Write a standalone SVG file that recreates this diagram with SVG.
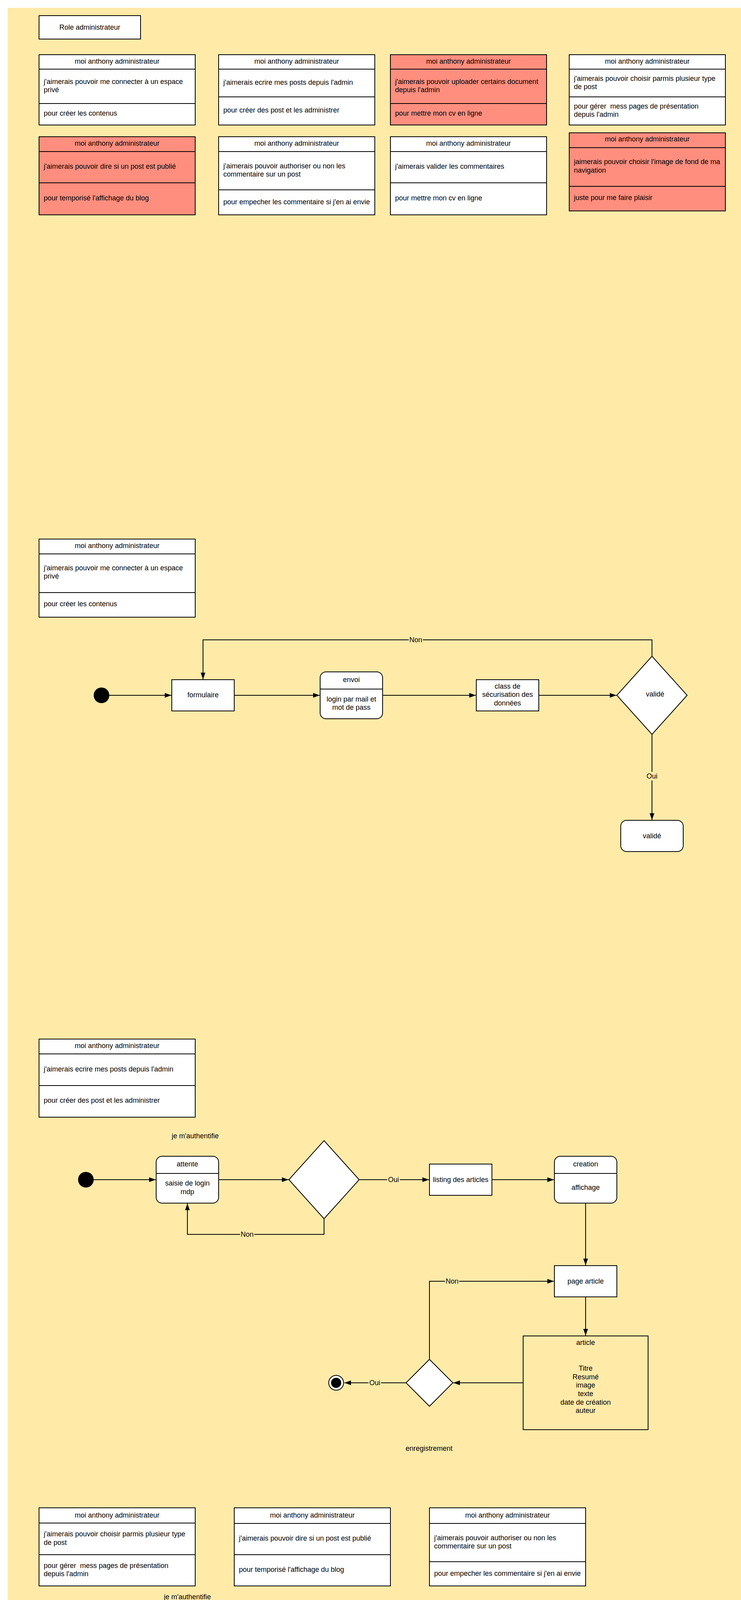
<svg xmlns="http://www.w3.org/2000/svg" width="1898" height="7480" viewBox="0 0 1898 7480">
<defs>
<style>
.bg{fill:#FFEAA8}
.redbg{fill:#FF8E7E;stroke:#000;stroke-width:2}
.box{fill:#fff;stroke:#000;stroke-width:2}
.rbox{fill:#FF8E7E;stroke:#000;stroke-width:2}
.hol{fill:none;stroke:#000;stroke-width:2}
.dv{stroke:#000;stroke-width:2}
.dia{fill:#fff;stroke:#000;stroke-width:2}
.t{font-family:"Liberation Sans",Arial,sans-serif;font-size:18px;fill:#000}
.m{text-anchor:middle}
.e{fill:none;stroke:#000;stroke-width:2}
.ea{fill:none;stroke:#000;stroke-width:2;marker-end:url(#arr)}
.ly{fill:#FFEAA8}
.lr{fill:#FF8E7E}
</style>
<marker id="arr" viewBox="0 0 17 12" refX="17" refY="6" markerWidth="17" markerHeight="12" markerUnits="userSpaceOnUse" orient="auto"><path d="M0,0 L17,6 L0,12 z" fill="#000"/></marker>
</defs>

<rect class="bg" x="20" y="20" width="1878" height="7460"/>
<rect id="red-zone" class="redbg" x="40" y="5120" width="1818" height="1200"/>

<g id="cards">
<g id="role"><rect class="box" x="100" y="40" width="260" height="60"/><text class="t m" x="230" y="76">Role administrateur</text></g>

<g id="card-r1-1"><rect class="box" x="100" y="140" width="400" height="180"/><line class="dv" x1="100" y1="177" x2="500" y2="177"/><line class="dv" x1="100" y1="265" x2="500" y2="265"/>
<text class="t m" x="300" y="163">moi anthony administrateur</text>
<text class="t" x="112" y="215">j'aimerais pouvoir me connecter à un espace<tspan x="112" y="236">privé</tspan></text>
<text class="t" x="112" y="296">pour créer les contenus</text></g>

<g id="card-r1-2"><rect class="box" x="560" y="140" width="400" height="180"/><line class="dv" x1="560" y1="177" x2="960" y2="177"/><line class="dv" x1="560" y1="248" x2="960" y2="248"/>
<text class="t m" x="760" y="163">moi anthony administrateur</text>
<text class="t" x="572" y="217">j'aimerais ecrire mes posts depuis l'admin</text>
<text class="t" x="572" y="288">pour créer des post et les administrer</text></g>

<g id="card-r1-3"><rect class="rbox" x="1000" y="140" width="400" height="180"/><line class="dv" x1="1000" y1="177" x2="1400" y2="177"/><line class="dv" x1="1000" y1="265" x2="1400" y2="265"/>
<text class="t m" x="1200" y="163">moi anthony administrateur</text>
<text class="t" x="1012" y="215">j'aimerais pouvoir uploader certains document<tspan x="1012" y="236">depuis l'admin</tspan></text>
<text class="t" x="1012" y="296">pour mettre mon cv en ligne</text></g>

<g id="card-r1-4"><rect class="box" x="1458" y="140" width="400" height="180"/><line class="dv" x1="1458" y1="177" x2="1858" y2="177"/><line class="dv" x1="1458" y1="248" x2="1858" y2="248"/>
<text class="t m" x="1658" y="163">moi anthony administrateur</text>
<text class="t" x="1470" y="207">j'aimerais pouvoir choisir parmis plusieur type<tspan x="1470" y="228">de post</tspan></text>
<text class="t" x="1470" y="278" style="white-space:pre">pour gérer  mess pages de présentation<tspan x="1470" y="299">depuis l'admin</tspan></text></g>

<g id="card-r2-1"><rect class="rbox" x="100" y="350" width="400" height="200"/><line class="dv" x1="100" y1="388" x2="500" y2="388"/><line class="dv" x1="100" y1="468" x2="500" y2="468"/>
<text class="t m" x="300" y="373">moi anthony administrateur</text>
<text class="t" x="112" y="432">j'aimerais pouvoir dire si un post est publié</text>
<text class="t" x="112" y="513">pour temporisé l'affichage du blog</text></g>

<g id="card-r2-2"><rect class="box" x="560" y="350" width="400" height="200"/><line class="dv" x1="560" y1="388" x2="960" y2="388"/><line class="dv" x1="560" y1="486" x2="960" y2="486"/>
<text class="t m" x="760" y="373">moi anthony administrateur</text>
<text class="t" x="572" y="431">j'aimerais pouvoir authoriser ou non les<tspan x="572" y="452">commentaire sur un post</tspan></text>
<text class="t" x="572" y="523">pour empecher les commentaire si j'en ai envie</text></g>

<g id="card-r2-3"><rect class="box" x="1000" y="350" width="400" height="200"/><line class="dv" x1="1000" y1="388" x2="1400" y2="388"/><line class="dv" x1="1000" y1="468" x2="1400" y2="468"/>
<text class="t m" x="1200" y="373">moi anthony administrateur</text>
<text class="t" x="1012" y="432">j'aimerais valider les commentaires</text>
<text class="t" x="1012" y="513">pour mettre mon cv en ligne</text></g>

<g id="card-r2-4"><rect class="rbox" x="1458" y="340" width="400" height="200"/><line class="dv" x1="1458" y1="378" x2="1858" y2="378"/><line class="dv" x1="1458" y1="477" x2="1858" y2="477"/>
<text class="t m" x="1658" y="362">moi anthony administrateur</text>
<text class="t" x="1470" y="420">jaimerais pouvoir choisir l'image de fond de ma<tspan x="1470" y="442">navigation</tspan></text>
<text class="t" x="1470" y="512">juste pour me faire plaisir</text></g>

<g id="card-s1"><rect class="box" x="100" y="1380" width="400" height="200"/><line class="dv" x1="100" y1="1418" x2="500" y2="1418"/><line class="dv" x1="100" y1="1517" x2="500" y2="1517"/>
<text class="t m" x="300" y="1403">moi anthony administrateur</text>
<text class="t" x="112" y="1460">j'aimerais pouvoir me connecter à un espace<tspan x="112" y="1481">privé</tspan></text>
<text class="t" x="112" y="1552">pour créer les contenus</text></g>

<g id="card-s2"><rect class="box" x="100" y="2660" width="400" height="200"/><line class="dv" x1="100" y1="2698" x2="500" y2="2698"/><line class="dv" x1="100" y1="2779" x2="500" y2="2779"/>
<text class="t m" x="300" y="2683">moi anthony administrateur</text>
<text class="t" x="112" y="2743">j'aimerais ecrire mes posts depuis l'admin</text>
<text class="t" x="112" y="2823">pour créer des post et les administrer</text></g>

<g id="card-s3-a"><rect class="box" x="100" y="3860" width="400" height="200"/><line class="dv" x1="100" y1="3899" x2="500" y2="3899"/><line class="dv" x1="100" y1="3980" x2="500" y2="3980"/>
<text class="t m" x="300" y="3885">moi anthony administrateur</text>
<text class="t" x="112" y="3933">j'aimerais pouvoir choisir parmis plusieur type<tspan x="112" y="3955">de post</tspan></text>
<text class="t" x="112" y="4014" style="white-space:pre">pour gérer  mess pages de présentation<tspan x="112" y="4035">depuis l'admin</tspan></text></g>

<g id="card-s3-b"><rect class="box" x="600" y="3860" width="400" height="200"/><line class="dv" x1="600" y1="3900" x2="1000" y2="3900"/><line class="dv" x1="600" y1="3980" x2="1000" y2="3980"/>
<text class="t m" x="800" y="3885">moi anthony administrateur</text>
<text class="t" x="612" y="3944">j'aimerais pouvoir dire si un post est publié</text>
<text class="t" x="612" y="4024">pour temporisé l'affichage du blog</text></g>

<g id="card-s3-c"><rect class="box" x="1100" y="3860" width="400" height="200"/><line class="dv" x1="1100" y1="3900" x2="1500" y2="3900"/><line class="dv" x1="1100" y1="3998" x2="1500" y2="3998"/>
<text class="t m" x="1300" y="3885">moi anthony administrateur</text>
<text class="t" x="1112" y="3943">j'aimerais pouvoir authoriser ou non les<tspan x="1112" y="3964">commentaire sur un post</tspan></text>
<text class="t" x="1112" y="4034">pour empecher les commentaire si j'en ai envie</text></g>

<g id="card-s4"><rect class="box" x="100" y="5140" width="400" height="200"/><line class="dv" x1="100" y1="5178" x2="500" y2="5178"/><line class="dv" x1="100" y1="5277" x2="500" y2="5277"/>
<text class="t m" x="300" y="5163">moi anthony administrateur</text>
<text class="t" x="112" y="5220">j'aimerais pouvoir uploader certains document<tspan x="112" y="5241">depuis l'admin</tspan></text>
<text class="t" x="112" y="5312">pour mettre mon cv en ligne</text></g>

<g id="card-s5"><rect class="box" x="100" y="6420" width="400" height="200"/><line class="dv" x1="100" y1="6458" x2="500" y2="6458"/><line class="dv" x1="100" y1="6538" x2="500" y2="6538"/>
<text class="t m" x="300" y="6443">moi anthony administrateur</text>
<text class="t" x="112" y="6504">j'aimerais valider les commentaires</text>
<text class="t" x="112" y="6583">pour mettre mon cv en ligne</text></g>
</g>

<!-- Section 1 nodes -->
<g id="s1-nodes">
<g id="s1-start"><circle cx="260" cy="1780" r="20" fill="#000"/></g>
<g id="s1-formulaire"><rect class="box" x="440" y="1740" width="160" height="80"/><text class="t m" x="520" y="1785">formulaire</text></g>
<g id="s1-envoi"><rect class="box" x="820" y="1720" width="160" height="120" rx="15"/><line class="dv" x1="820" y1="1764" x2="980" y2="1764"/>
<text class="t m" x="900" y="1746">envoi</text><text class="t m" x="900" y="1796">login par mail et<tspan x="900" y="1817">mot de pass</tspan></text></g>
<g id="s1-class"><rect class="box" x="1220" y="1740" width="160" height="80"/><text class="t m" x="1300" y="1763">class de<tspan x="1300" y="1784">sécurisation des</tspan><tspan x="1300" y="1806">données</tspan></text></g>
<g id="s1-decision"><polygon class="dia" points="1580,1780 1670,1680 1760,1780 1670,1880"/><text class="t m" x="1678" y="1783">validé</text></g>
<g id="s1-valide"><rect class="box" x="1590" y="2100" width="160" height="80" rx="15"/><text class="t m" x="1670" y="2146">validé</text></g>
</g>

<!-- Section 2 nodes (base coordinates) -->
<g id="s2-nodes">
<g id="s2-start"><circle cx="220" cy="3020" r="20" fill="#000"/></g>
<g id="s2-label-auth"><text class="t m" x="500" y="2914">je m'authentifie</text></g>
<g id="s2-attente"><rect class="box" x="400" y="2960" width="160" height="120" rx="15"/><line class="dv" x1="400" y1="3004" x2="560" y2="3004"/><text class="t m" x="480" y="2986">attente</text><text class="t m" x="480" y="3035">saisie de login<tspan x="480" y="3057">mdp</tspan></text></g>
<g id="s2-dec1"><polygon class="dia" points="740,3020 830,2920 920,3020 830,3120"/></g>
<g id="s2-listing"><rect class="box" x="1100" y="2980" width="160" height="80"/><text class="t m" x="1180" y="3026">listing des articles</text></g>
<g id="s2-creation"><rect class="box" x="1420" y="2960" width="160" height="120" rx="15"/><line class="dv" x1="1420" y1="3004" x2="1580" y2="3004"/><text class="t m" x="1500" y="2986">creation</text><text class="t m" x="1500" y="3046">affichage</text></g>
<g id="s2-page"><rect class="box" x="1420" y="3240" width="160" height="80"/><text class="t m" x="1500" y="3286">page article</text></g>
<g id="s2-article"><rect class="hol" x="1340" y="3420" width="320" height="240"/><text class="t m" x="1500" y="3443">article</text>
<text class="t m" x="1500" y="3509">Titre<tspan x="1500" y="3531">Resumé</tspan><tspan x="1500" y="3552">image</tspan><tspan x="1500" y="3574">texte</tspan><tspan x="1500" y="3596">date de création</tspan><tspan x="1500" y="3617">auteur</tspan></text></g>
<g id="s2-dec2"><polygon class="dia" points="1040,3540 1100,3480 1160,3540 1100,3600"/></g>
<g id="s2-end"><circle cx="861" cy="3540" r="19" fill="#fff" stroke="#000" stroke-width="2"/><circle cx="861" cy="3540" r="13" fill="#000"/></g>
<g id="s2-label-enr"><text class="t m" x="1099" y="3714">enregistrement</text></g>
</g>

<!-- Section 3 nodes -->
<g id="s3-nodes" transform="translate(-20,1180)">
<g id="s3-start"><circle cx="220" cy="3020" r="20" fill="#000"/></g>
<g id="s3-label-auth"><text class="t m" x="500" y="2914">je m'authentifie</text></g>
<g id="s3-attente"><rect class="box" x="400" y="2960" width="160" height="120" rx="15"/><line class="dv" x1="400" y1="3004" x2="560" y2="3004"/><text class="t m" x="480" y="2986">attente</text><text class="t m" x="480" y="3035">saisie de login<tspan x="480" y="3057">mdp</tspan></text></g>
<g id="s3-dec1"><polygon class="dia" points="740,3020 830,2920 920,3020 830,3120"/></g>
<g id="s3-listing"><rect class="box" x="1100" y="2980" width="160" height="80"/><text class="t m" x="1180" y="3026">listing des articles</text></g>
<g id="s3-creation"><rect class="box" x="1420" y="2960" width="160" height="120" rx="15"/><line class="dv" x1="1420" y1="3004" x2="1580" y2="3004"/><text class="t m" x="1500" y="2986">creation</text><text class="t m" x="1500" y="3046">affichage</text></g>
<g id="s3-page"><rect class="box" x="1420" y="3240" width="160" height="80"/><text class="t m" x="1500" y="3286">page article</text></g>
<g id="s3-article"><rect class="hol" x="1340" y="3420" width="320" height="240"/><text class="t m" x="1500" y="3443">article</text>
<text class="t m" x="1500" y="3509">Titre<tspan x="1500" y="3531">Resumé</tspan><tspan x="1500" y="3552">image</tspan><tspan x="1500" y="3574">texte</tspan><tspan x="1500" y="3596">date de création</tspan><tspan x="1500" y="3617">auteur</tspan></text></g>
<g id="s3-dec2"><polygon class="dia" points="1040,3540 1100,3480 1160,3540 1100,3600"/></g>
<g id="s3-end"><circle cx="861" cy="3540" r="19" fill="#fff" stroke="#000" stroke-width="2"/><circle cx="861" cy="3540" r="13" fill="#000"/></g>
<g id="s3-label-enr"><text class="t m" x="1100" y="3716">enregistrement</text></g>
<g id="s3-publie"><rect class="box" x="1430" y="3720" width="140" height="60"/><text class="t m" x="1500" y="3754">publié</text></g>
<g id="s3-type"><rect class="box" x="1280" y="3760" width="140" height="60"/><text class="t m" x="1350" y="3796">type de post</text></g>
<g id="s3-authorise"><rect class="box" x="1580" y="3760" width="140" height="60"/><text class="t m" x="1650" y="3796">authorisé</text></g>
</g>

<!-- Section 4 nodes -->
<g id="s4-nodes" transform="translate(0,2480)">
<g id="s4-start"><circle cx="220" cy="3020" r="20" fill="#000"/></g>
<g id="s4-label-auth"><text class="t m" x="500" y="2914">je m'authentifie</text></g>
<g id="s4-attente"><rect class="box" x="400" y="2960" width="160" height="120" rx="15"/><line class="dv" x1="400" y1="3004" x2="560" y2="3004"/><text class="t m" x="480" y="2986">attente</text><text class="t m" x="480" y="3035">saisie de login<tspan x="480" y="3057">mdp</tspan></text></g>
<g id="s4-dec1"><polygon class="dia" points="740,3020 830,2920 920,3020 830,3120"/></g>
<g id="s4-form-envoi"><rect class="box" x="1100" y="2980" width="160" height="80"/><text class="t m" x="1180" y="3012">formulaire d'envoi<tspan x="1180" y="3034">de fichier</tspan></text></g>
<g id="s4-page-media"><rect class="box" x="1420" y="2960" width="160" height="120" rx="15"/><line class="dv" x1="1420" y1="3004" x2="1580" y2="3004"/><text class="t m" x="1500" y="2986">page média</text><text class="t m" x="1500" y="3046">listing</text></g>
<g id="s4-label-texte"><text class="t m" x="950" y="3244">Texte</text></g>
<g id="s4-form-ajout"><rect class="box" x="1420" y="3240" width="160" height="80"/><text class="t m" x="1500" y="3272">formulaire d'ajout<tspan x="1500" y="3294">de média</tspan></text></g>
<g id="s4-image"><rect class="hol" x="1340" y="3420" width="320" height="240"/><text class="t m" x="1500" y="3444">image</text>
<text class="t m" x="1500" y="3520">hauteur<tspan x="1500" y="3542">largeur</tspan><tspan x="1500" y="3564">titre</tspan><tspan x="1500" y="3585">alt</tspan><tspan x="1500" y="3607">file</tspan></text></g>
<g id="s4-dec2"><polygon class="dia" points="1040,3540 1100,3480 1160,3540 1100,3600"/></g>
<g id="s4-end"><circle cx="861" cy="3540" r="19" fill="#fff" stroke="#000" stroke-width="2"/><circle cx="861" cy="3540" r="13" fill="#000"/></g>
<g id="s4-label-enr"><text class="t m" x="1120" y="3654">enregistrement</text></g>
<g id="s4-enr-fichier"><rect class="box" x="1340" y="3740" width="140" height="60"/><text class="t m" x="1410" y="3763">enregistrement<tspan x="1410" y="3784">du fichier</tspan></text></g>
<g id="s4-publie"><rect class="box" x="1520" y="3740" width="140" height="60"/><text class="t m" x="1590" y="3774">publié</text></g>
</g>

<!-- Section 5 nodes -->
<g id="s5-nodes" transform="translate(-70,3760)">
<g id="s5-start"><circle cx="220" cy="3020" r="20" fill="#000"/></g>
<g id="s5-label-auth"><text class="t m" x="500" y="2914">je m'authentifie</text></g>
<g id="s5-attente"><rect class="box" x="400" y="2960" width="160" height="120" rx="15"/><line class="dv" x1="400" y1="3004" x2="560" y2="3004"/><text class="t m" x="480" y="2986">attente</text><text class="t m" x="480" y="3035">saisie de login<tspan x="480" y="3057">mdp</tspan></text></g>
<g id="s5-dec1"><polygon class="dia" points="740,3020 830,2920 920,3020 830,3120"/></g>
<g id="s5-listing"><rect class="box" x="1100" y="2980" width="160" height="80"/><text class="t m" x="1180" y="3013">listing des<tspan x="1180" y="3034">commentaire</tspan></text></g>
<g id="s5-page-comm"><rect class="box" x="1420" y="2960" width="160" height="120" rx="15"/><line class="dv" x1="1420" y1="3004" x2="1580" y2="3004"/><text class="t m" x="1500" y="2976">page<tspan x="1500" y="2997">commentaire</tspan></text><text class="t m" x="1500" y="3046">listing</text></g>
<g id="s5-form-auth"><rect class="box" x="1420" y="3240" width="160" height="80"/><text class="t m" x="1500" y="3262">formulaire<tspan x="1500" y="3284">authorisation de</tspan><tspan x="1500" y="3306">commentaire</tspan></text></g>
<g id="s5-box"><rect class="hol" x="1340" y="3420" width="320" height="240"/><text class="t m" x="1500" y="3474">auteur et contenu</text><text class="t m" x="1508" y="3574">auhorisation</text></g>
<g id="s5-dec2"><polygon class="dia" points="1040,3540 1100,3480 1160,3540 1100,3600"/></g>
<g id="s5-end"><circle cx="861" cy="3540" r="19" fill="#fff" stroke="#000" stroke-width="2"/><circle cx="861" cy="3540" r="13" fill="#000"/></g>
<g id="s5-label-validation"><text class="t m" x="1120" y="3654">validation</text></g>
</g>

<!-- Connectors -->
<g id="connectors">
<g id="s1-edges">
<path class="ea" d="M280,1780 H439"/>
<path class="ea" d="M600,1780 H819"/>
<path class="ea" d="M980,1780 H1219"/>
<path class="ea" d="M1380,1780 H1579"/>
<path class="ea" d="M1670,1680 V1638 H520 V1739"/>
<rect class="ly" x="1047" y="1627" width="36" height="22"/><text class="t m" x="1065" y="1644">Non</text>
<path class="ea" d="M1670,1880 V2099"/>
<rect class="ly" x="1654" y="1976" width="32" height="22"/><text class="t m" x="1670" y="1993">Oui</text>
</g>

<g id="s2-edges">
<path class="ea" d="M240,3020 H399"/>
<path class="ea" d="M560,3020 H739"/>
<path class="ea" d="M920,3020 H1099"/>
<rect class="ly" x="992" y="3009" width="32" height="22"/><text class="t m" x="1008" y="3026">Oui</text>
<path class="ea" d="M1260,3020 H1419"/>
<path class="ea" d="M830,3120 V3160 H480 V3081"/>
<rect class="ly" x="615" y="3149" width="36" height="22"/><text class="t m" x="633" y="3166">Non</text>
<path class="ea" d="M1500,3080 V3239"/>
<path class="ea" d="M1500,3320 V3419"/>
<path class="ea" d="M1340,3540 H1161"/>
<path class="ea" d="M1040,3540 H882"/>
<rect class="ly" x="944" y="3529" width="32" height="22"/><text class="t m" x="960" y="3546">Oui</text>
<path class="ea" d="M1100,3480 V3280 H1419"/>
<rect class="ly" x="1140" y="3269" width="36" height="22"/><text class="t m" x="1158" y="3286">Non</text>
</g>

<g id="s3-edges" transform="translate(-20,1180)">
<path class="ea" d="M240,3020 H399"/>
<path class="ea" d="M560,3020 H739"/>
<path class="ea" d="M920,3020 H1099"/>
<rect class="ly" x="992" y="3009" width="32" height="22"/><text class="t m" x="1008" y="3026">Oui</text>
<path class="ea" d="M1260,3020 H1419"/>
<path class="ea" d="M830,3120 V3160 H480 V3081"/>
<rect class="ly" x="615" y="3149" width="36" height="22"/><text class="t m" x="633" y="3166">Non</text>
<path class="ea" d="M1500,3080 V3239"/>
<path class="ea" d="M1500,3320 V3419"/>
<path class="ea" d="M1340,3540 H1161"/>
<path class="ea" d="M1040,3540 H882"/>
<rect class="ly" x="944" y="3529" width="32" height="22"/><text class="t m" x="960" y="3546">Oui</text>
<path class="ea" d="M1100,3480 V3280 H1419"/>
<rect class="ly" x="1140" y="3269" width="36" height="22"/><text class="t m" x="1158" y="3286">Non</text>
<path class="ea" d="M1500,3660 V3719"/>
<path class="ea" d="M1500,3660 L1351,3759"/>
<path class="ea" d="M1500,3660 L1649,3759"/>
</g>

<g id="s4-edges" transform="translate(0,2480)">
<path class="ea" d="M240,3020 H399"/>
<path class="ea" d="M560,3020 H739"/>
<path class="ea" d="M920,3020 H1099"/>
<rect class="lr" x="992" y="3009" width="32" height="22"/><text class="t m" x="1008" y="3026">Oui</text>
<path class="ea" d="M1260,3020 H1419"/>
<path class="ea" d="M830,3120 V3160 H480 V3081"/>
<rect class="lr" x="615" y="3149" width="36" height="22"/><text class="t m" x="633" y="3166">Non</text>
<path class="ea" d="M1500,3080 V3239"/>
<path class="ea" d="M1500,3320 V3419"/>
<path class="ea" d="M1340,3540 H1161"/>
<path class="ea" d="M1040,3540 H882"/>
<rect class="lr" x="944" y="3529" width="32" height="22"/><text class="t m" x="960" y="3546">Oui</text>
<path class="ea" d="M1100,3480 V3280 H1419"/>
<rect class="lr" x="1140" y="3269" width="36" height="22"/><text class="t m" x="1158" y="3286">Non</text>
<path class="ea" d="M1500,3660 L1415,3739"/>
<path class="ea" d="M1500,3660 L1585,3739"/>
</g>

<g id="s5-edges" transform="translate(-70,3760)">
<path class="ea" d="M240,3020 H399"/>
<path class="ea" d="M560,3020 H739"/>
<path class="ea" d="M920,3020 H1099"/>
<rect class="ly" x="992" y="3009" width="32" height="22"/><text class="t m" x="1008" y="3026">Oui</text>
<path class="ea" d="M1260,3020 H1419"/>
<path class="ea" d="M830,3120 V3160 H480 V3081"/>
<rect class="ly" x="615" y="3149" width="36" height="22"/><text class="t m" x="633" y="3166">Non</text>
<path class="ea" d="M1500,3080 V3239"/>
<path class="ea" d="M1500,3320 V3419"/>
<path class="ea" d="M1340,3540 H1161"/>
<path class="ea" d="M1040,3540 H882"/>
<rect class="ly" x="944" y="3529" width="32" height="22"/><text class="t m" x="960" y="3546">Oui</text>
<path class="ea" d="M1100,3480 V3280 H1419"/>
<rect class="ly" x="1140" y="3269" width="36" height="22"/><text class="t m" x="1158" y="3286">Non</text>
</g>
</g>
</svg>
